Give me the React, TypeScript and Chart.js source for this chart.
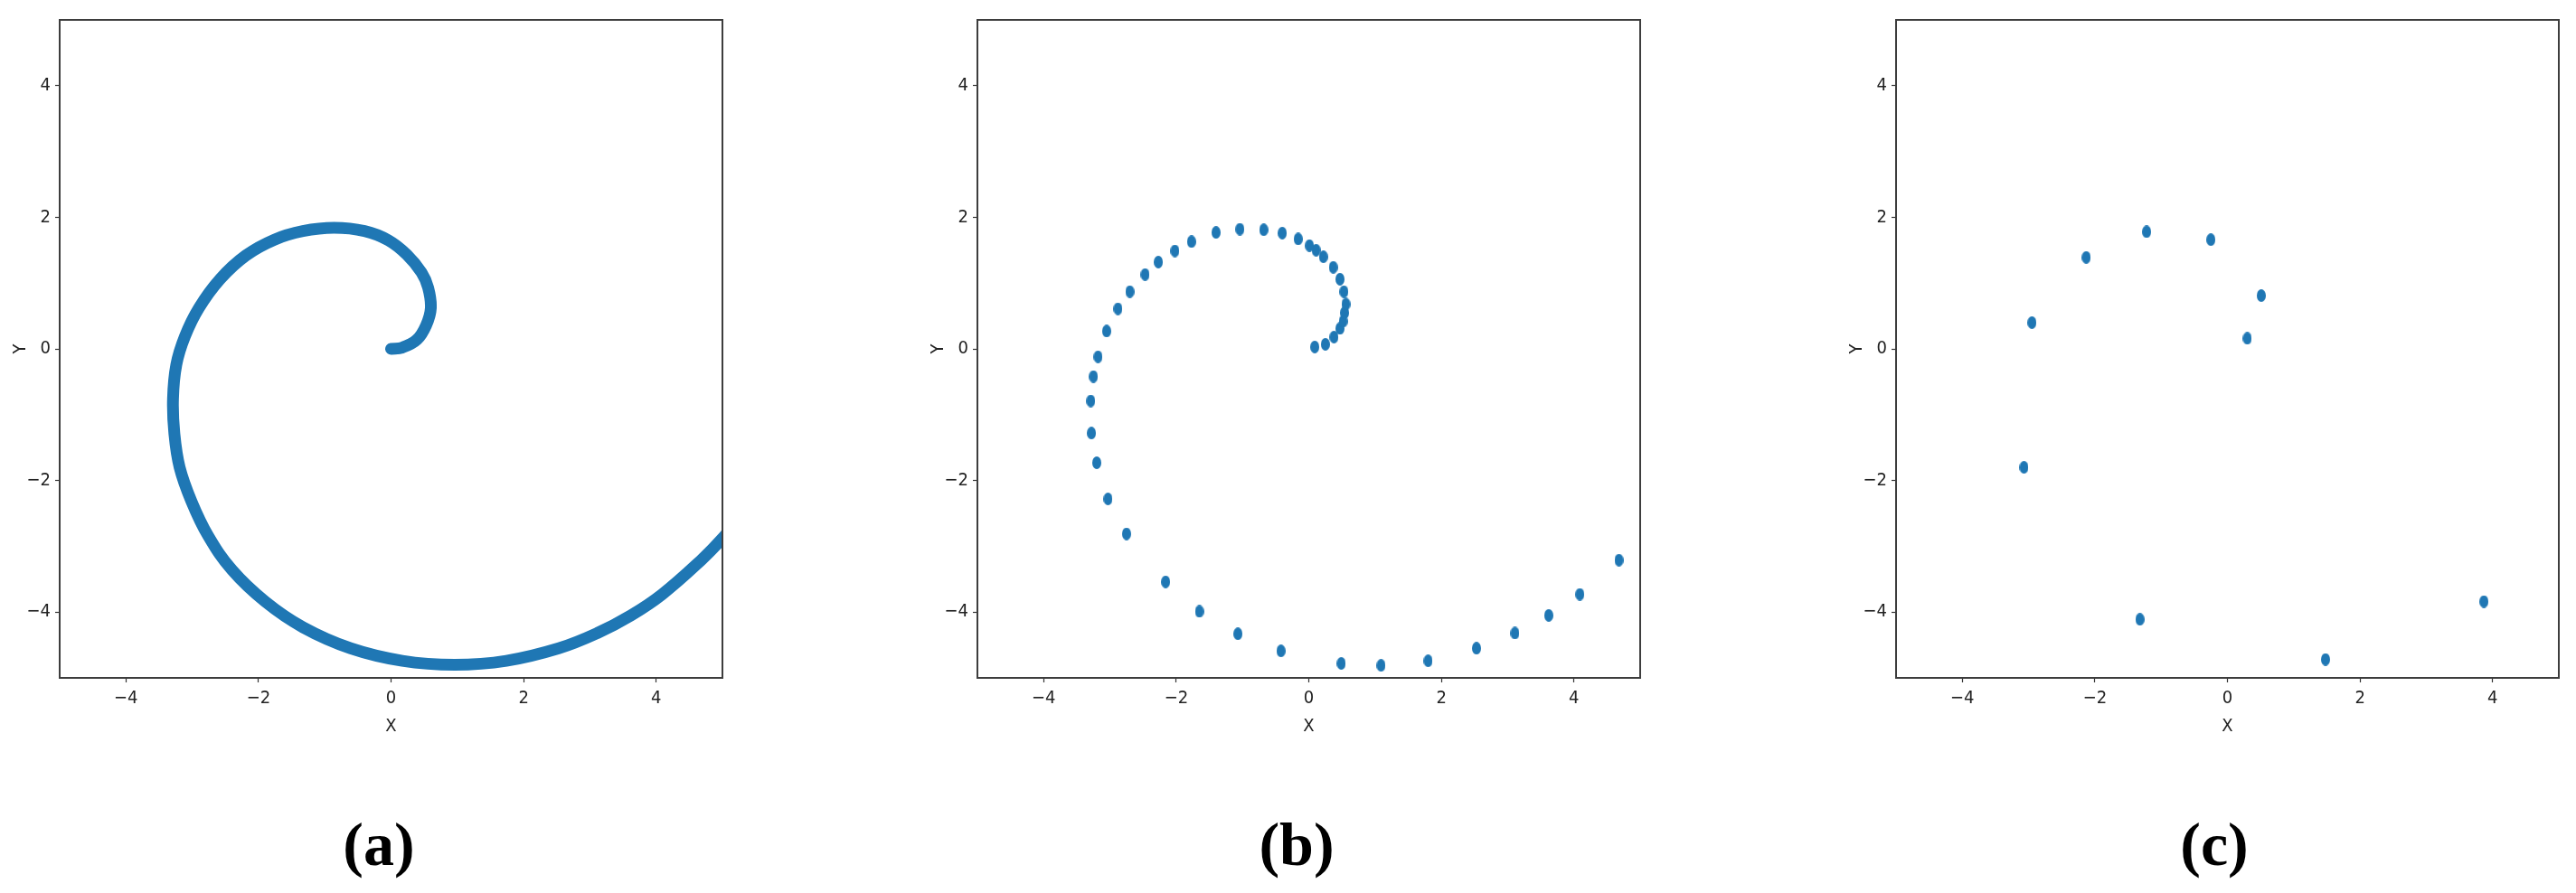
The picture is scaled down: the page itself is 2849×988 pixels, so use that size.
import React, { useEffect, useRef } from "react";
import { Chart, registerables } from "chart.js";

Chart.register(...registerables);

// ---- data ----
const axisTicks = [-4, -2, 0, 2, 4];
const axisMin = -5;
const axisMax = 5;
const panelLabels = ["(a)", "(b)", "(c)"];

// (a) dense spiral trajectory (band centre line)
const spiralAX = [0.0, 0.17, 0.39, 0.53, 0.6, 0.56, 0.46, 0.24, -0.04, -0.4, -0.86, -1.33, -1.76, -2.19, -2.58, -2.9, -3.11, -3.24, -3.29, -3.27, -3.19, -3.01, -2.76, -2.4, -1.9, -1.33, -0.61, 0.17, 0.96, 1.74, 2.53, 3.11, 3.62, 4.09, 4.68, 5.0, 5.35];
const spiralAY = [0.0, 0.02, 0.14, 0.36, 0.62, 0.93, 1.16, 1.43, 1.65, 1.79, 1.84, 1.79, 1.66, 1.42, 1.06, 0.62, 0.19, -0.24, -0.76, -1.28, -1.8, -2.32, -2.84, -3.36, -3.84, -4.23, -4.55, -4.74, -4.8, -4.74, -4.55, -4.32, -4.05, -3.73, -3.21, -2.88, -2.45];

// (b) sampled points
const sampledBX = [0.09, 0.25, 0.38, 0.47, 0.52, 0.54, 0.56, 0.53, 0.47, 0.37, 0.22, 0.11, 0.01, -0.16, -0.4, -0.68, -1.04, -1.4, -1.77, -2.02, -2.27, -2.47, -2.7, -2.88, -3.05, -3.18, -3.25, -3.29, -3.28, -3.2, -3.03, -2.75, -2.16, -1.65, -1.07, -0.42, 0.49, 1.09, 1.8, 2.53, 3.11, 3.62, 4.09, 4.68];
const sampledBY = [0.03, 0.07, 0.18, 0.31, 0.42, 0.55, 0.68, 0.87, 1.06, 1.24, 1.4, 1.5, 1.57, 1.67, 1.76, 1.81, 1.82, 1.77, 1.63, 1.49, 1.32, 1.13, 0.87, 0.61, 0.27, -0.12, -0.42, -0.79, -1.28, -1.73, -2.28, -2.81, -3.54, -3.99, -4.33, -4.59, -4.78, -4.81, -4.74, -4.55, -4.32, -4.05, -3.73, -3.21];

// (c) sparse points
const sparseCX = [0.3, 0.51, -0.25, -1.22, -2.13, -2.95, -3.07, -1.32, 1.48, 3.87];
const sparseCY = [0.16, 0.81, 1.66, 1.78, 1.39, 0.4, -1.8, -4.11, -4.72, -3.84];

// ---- styling ----
const BLUE = "#1f77b4";
const TICK_FONT = '"Liberation Sans Narrow", "DejaVu Sans Condensed", "DejaVu Sans", sans-serif';
const CANVAS_W = 819;
const CANVAS_H = 830;
const Y_AXIS_W = 66;
const X_AXIS_H = 80;

const panelLefts = [0, 1015, 2031];
const labelCenters = [419, 1434, 2449];

const toPoints = (xs: number[], ys: number[]) => xs.map((x, i) => ({ x, y: ys[i] }));

const framePlugin = {
  id: "frame",
  afterDraw(chart: any) {
    const { ctx, chartArea: a } = chart;
    ctx.save();
    ctx.strokeStyle = "#3d3d3d";
    ctx.lineWidth = 2;
    ctx.strokeRect(a.left, a.top, a.right - a.left, a.bottom - a.top);
    ctx.restore();
  },
};

function makeMarker(): HTMLCanvasElement {
  const c = document.createElement("canvas");
  c.width = 10;
  c.height = 14;
  const g = c.getContext("2d")!;
  g.fillStyle = BLUE;
  g.beginPath();
  g.ellipse(5, 7, 5, 7, 0, 0, Math.PI * 2);
  g.fill();
  return c;
}

const fmt = (v: number) => (v < 0 ? "\u2212" + Math.abs(v) : String(v));

function axisOptions(isX: boolean) {
  return {
    type: "linear",
    position: isX ? "bottom" : "left",
    min: axisMin,
    max: axisMax,
    afterBuildTicks: (s: any) => {
      s.ticks = axisTicks.map((v) => ({ value: v }));
    },
    afterFit: (s: any) => {
      if (isX) s.height = X_AXIS_H;
      else s.width = Y_AXIS_W;
    },
    grid: {
      drawOnChartArea: false,
      drawTicks: true,
      tickLength: 5,
      tickColor: "#333",
      tickWidth: 1.2,
    },
    border: { display: false },
    ticks: {
      color: "#222",
      font: { family: TICK_FONT, size: 20 },
      padding: isX ? 6 : 5,
      maxRotation: 0,
      callback: (v: any) => fmt(Number(v)),
    },
    title: {
      display: true,
      text: isX ? "X" : "Y",
      color: "#222",
      font: { family: TICK_FONT, size: 20 },
      padding: isX ? { top: 0, bottom: 14 } : { top: 11, bottom: 0 },
    },
  };
}

function Panel({ index }: { index: number }) {
  const ref = useRef<HTMLCanvasElement | null>(null);
  useEffect(() => {
    if (!ref.current) return;
    let dataset: any;
    if (index === 0) {
      dataset = {
        data: toPoints(spiralAX, spiralAY),
        showLine: true,
        borderColor: BLUE,
        backgroundColor: BLUE,
        borderWidth: 13,
        borderCapStyle: "round",
        borderJoinStyle: "round",
        tension: 0.4,
        pointRadius: 0,
        clip: 0,
      };
    } else {
      const marker = makeMarker();
      dataset = {
        data: index === 1 ? toPoints(sampledBX, sampledBY) : toPoints(sparseCX, sparseCY),
        pointStyle: marker,
        pointRadius: 7,
        backgroundColor: BLUE,
        borderColor: BLUE,
        showLine: false,
      };
    }
    const chart = new Chart(ref.current, {
      type: "scatter",
      data: { datasets: [dataset] },
      options: {
        animation: false,
        responsive: false,
        devicePixelRatio: 1,
        layout: { padding: { top: 22, right: 20, left: 0, bottom: 0 } },
        plugins: { legend: { display: false }, tooltip: { enabled: false } },
        scales: { x: axisOptions(true) as any, y: axisOptions(false) as any },
      },
      plugins: [framePlugin],
    });
    return () => chart.destroy();
  }, [index]);
  return (
    <canvas
      ref={ref}
      width={CANVAS_W}
      height={CANVAS_H}
      style={{ position: "absolute", left: panelLefts[index], top: 0, width: CANVAS_W, height: CANVAS_H, display: "block" }}
    />
  );
}

export default function App() {
  return (
    <div style={{ position: "absolute", left: 0, top: 0, width: 2849, height: 988, background: "#fff", overflow: "hidden" }}>
      {[0, 1, 2].map((i) => (
        <Panel key={i} index={i} />
      ))}
      {panelLabels.map((t, i) => (
        <div
          key={t}
          style={{
            position: "absolute",
            left: labelCenters[i] - 100,
            width: 200,
            top: 900,
            textAlign: "center",
            fontFamily: '"Liberation Serif", "Times New Roman", serif',
            fontWeight: "bold",
            fontSize: 68,
            lineHeight: "68px",
            color: "#000",
          }}
        >
          {t}
        </div>
      ))}
    </div>
  );
}
